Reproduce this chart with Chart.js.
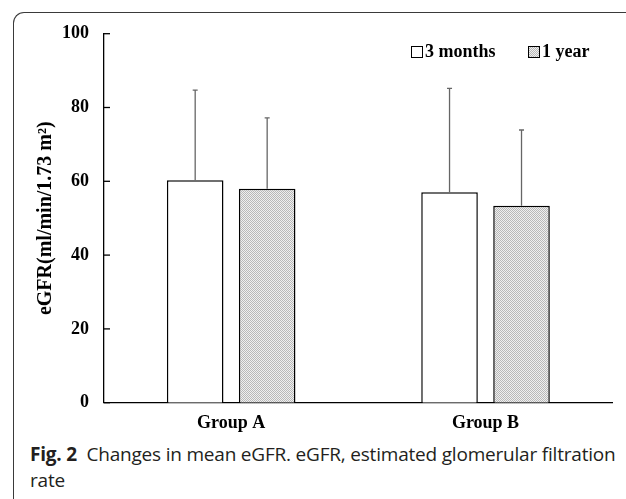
<!DOCTYPE html>
<html>
<head>
<meta charset="utf-8">
<script src="https://cdn.jsdelivr.net/npm/chart.js@4.4.0/dist/chart.umd.min.js"></script>
<style>
  html, body { margin: 0; padding: 0; background: #fff; }
  body { width: 626px; height: 499px; position: relative; overflow: hidden; }
  #frame { position: absolute; left: 13px; top: 12px; width: 800px; height: 700px;
           border-left: 1.5px solid #3a3a3a; border-top: 1.5px solid #3a3a3a; border-top-left-radius: 11px; }
  #chart { position: absolute; left: 0; top: 0; }
  .lg { position: absolute; top: 40px; font: bold 18px "Liberation Serif"; color: #000; white-space: nowrap; line-height: 22px; }
  .box { display: inline-block; width: 10px; height: 10px; border: 1.3px solid #000; vertical-align: -1px; margin-right: 2px; background: #fff; }
  .box.pat { background-color: #dcdcdc;
    background-image: repeating-conic-gradient(#b8b8b8 0 25%, #efefef 0 50%); background-size: 2px 2px; }
  #caption { position: absolute; left: 30px; top: 441px; width: 592px; font: 19px "Open Sans"; line-height: 26px; color: #231f20; letter-spacing: -0.2px; }
  #caption b { font-weight: 700; }
</style>
</head>
<body>
<div id="frame"></div>
<canvas id="chart" width="626" height="440"></canvas>
<div id="lg1" class="lg" style="left:411px"><span class="box"></span><span id="lt1"></span></div>
<div id="lg2" class="lg" style="left:528px"><span class="box pat"></span><span id="lt2"></span></div>
<div id="caption"><b>Fig. 2</b>&nbsp; Changes in mean eGFR. eGFR, estimated glomerular filtration rate</div>
<script>
// ---- data ----
const categories = ['Group A', 'Group B'];
const seriesNames = ['3 months', '1 year'];
const mean3Months = [60.3, 57.0];
const sd3Months = [24.4, 28.2];
const mean1Year = [58.0, 53.4];
const sd1Year = [19.2, 20.5];
const yTicks = [0, 20, 40, 60, 80, 100];
const yTitle = 'eGFR(ml/min/1.73 m\u00B2)';

document.getElementById('lt1').textContent = seriesNames[0];
document.getElementById('lt2').textContent = seriesNames[1];

// stipple pattern
const pc = document.createElement('canvas');
pc.width = 2; pc.height = 2;
const pctx = pc.getContext('2d');
pctx.fillStyle = '#efefef'; pctx.fillRect(0, 0, 2, 2);
pctx.fillStyle = '#b8b8b8'; pctx.fillRect(0, 0, 1, 1); pctx.fillRect(1, 1, 1, 1);
const ctx = document.getElementById('chart').getContext('2d');
const pattern = ctx.createPattern(pc, 'repeat');

const sds = [sd3Months, sd1Year];

const errorBars = {
  id: 'errorBars',
  afterDatasetsDraw(chart) {
    const c = chart.ctx, ys = chart.scales.y;
    c.save();
    c.strokeStyle = '#666';
    c.lineWidth = 1.3;
    chart.data.datasets.forEach((ds, i) => {
      const meta = chart.getDatasetMeta(i);
      meta.data.forEach((bar, j) => {
        const top = ys.getPixelForValue(ds.data[j] + sds[i][j]);
        c.beginPath();
        c.moveTo(bar.x, bar.y);
        c.lineTo(bar.x, top);
        c.moveTo(bar.x - 2.5, top);
        c.lineTo(bar.x + 2.5, top);
        c.stroke();
      });
    });
    c.restore();
  }
};

const innerTicks = {
  id: 'innerTicks',
  afterDraw(chart) {
    const c = chart.ctx, ys = chart.scales.y, left = chart.chartArea.left;
    c.save();
    c.strokeStyle = '#000';
    c.lineWidth = 1.3;
    yTicks.forEach(v => {
      const y = ys.getPixelForValue(v);
      c.beginPath();
      c.moveTo(left, y);
      c.lineTo(left + 6, y);
      c.stroke();
    });
    c.restore();
  }
};

new Chart(ctx, {
  type: 'bar',
  data: {
    labels: categories,
    datasets: [
      { label: seriesNames[0], data: mean3Months, backgroundColor: '#fff', borderColor: '#000', borderWidth: 1.5 },
      { label: seriesNames[1], data: mean1Year, backgroundColor: pattern, borderColor: '#000', borderWidth: 1.5 }
    ]
  },
  options: {
    responsive: false,
    animation: false,
    devicePixelRatio: 1,
    categoryPercentage: 0.566,
    barPercentage: 0.786,
    layout: { padding: { left: 0, right: 13.3, top: 33.7, bottom: 0 } },
    plugins: { legend: { display: false }, tooltip: { enabled: false }, title: { display: false } },
    scales: {
      x: {
        grid: { display: false, drawTicks: false },
        border: { display: true, color: '#000', width: 1.3 },
        ticks: { color: '#000', font: { family: 'Liberation Serif', size: 18, weight: 'bold' }, padding: 10 },
        afterFit(s) { s.height = 37.3; }
      },
      y: {
        min: 0, max: 100,
        afterBuildTicks(s) { s.ticks = yTicks.map(v => ({ value: v })); },
        grid: { display: false, drawTicks: false },
        border: { display: true, color: '#000', width: 1.3 },
        ticks: { color: '#000', font: { family: 'Liberation Serif', size: 18, weight: 'bold' }, padding: 15 },
        title: { display: true, text: yTitle, color: '#000', font: { family: 'Liberation Serif', size: 20, weight: 'bold' }, padding: { top: 34, bottom: 4 } },
        afterFit(s) { s.width = 104; }
      }
    }
  },
  plugins: [errorBars, innerTicks]
});
</script>
</body>
</html>
